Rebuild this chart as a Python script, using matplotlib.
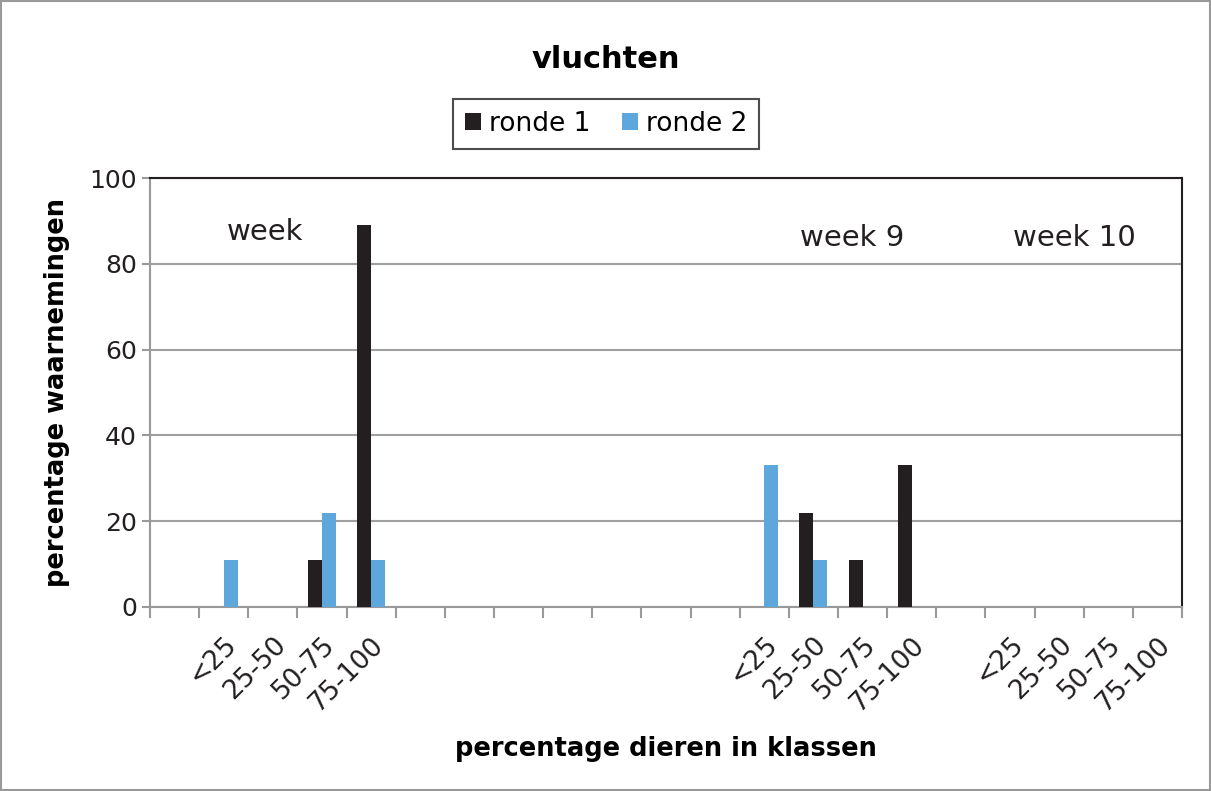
import matplotlib.pyplot as plt
import numpy as np
from matplotlib.patches import Rectangle

# categories along x (empty strings = empty slots)
klassen = ['', '<25', '25-50', '50-75', '75-100',
           '', '', '', '', '', '', '',
           '<25', '25-50', '50-75', '75-100',
           '', '<25', '25-50', '50-75', '75-100']
ronde1 = [0, 0, 0, 11, 89, 0, 0, 0, 0, 0, 0, 0, 0, 22, 11, 33, 0, 0, 0, 0, 0]
ronde2 = [0, 11, 0, 22, 11, 0, 0, 0, 0, 0, 0, 0, 33, 11, 0, 0, 0, 0, 0, 0, 0]
weeks = ['week', 'week 9', 'week 10']
week_x = [1.84, 13.79, 18.32]
week_y = [87.4, 86, 86]

plt.rcParams['font.family'] = 'DejaVu Sans'
fig = plt.figure(figsize=(12.11, 7.91), dpi=100)
ax = fig.add_axes([150/1211, 1-607/791, 1032/1211, 429/791])

x = np.arange(len(klassen))
w = 0.285
ax.bar(x - w/2, ronde1, w, color='#231f20', label='ronde 1', zorder=3)
ax.bar(x + w/2, ronde2, w, color='#5ea7dc', label='ronde 2', zorder=3)

ax.set_xlim(-0.5, len(klassen) - 0.5)
ax.set_ylim(0, 100)
ax.set_yticks([0, 20, 40, 60, 80, 100])
ax.yaxis.grid(True, color='#a0a0a0', linewidth=1.5, zorder=0)
ax.tick_params(axis='y', labelsize=18, length=6, color='#999999', width=1.5, colors='#231f20')

# ticks at boundaries, labels at centres
ax.set_xticks(np.arange(len(klassen) + 1) - 0.5)
ax.set_xticklabels([])
ax.tick_params(axis='x', which='major', length=8, color='#999999', width=1.5)
ax.set_xticks(x, minor=True)
ax.set_xticklabels(klassen, minor=True, rotation=45, ha='right', va='top',
                   rotation_mode='anchor', fontsize=19, color='#231f20')
ax.tick_params(axis='x', which='minor', length=0, pad=18)

for s in ['left', 'bottom']:
    ax.spines[s].set_color('#999999')
    ax.spines[s].set_linewidth(1.5)
for s in ['top', 'right']:
    ax.spines[s].set_color('#231f20')
    ax.spines[s].set_linewidth(1.5)

for t, xx, yy in zip(weeks, week_x, week_y):
    ax.text(xx, yy, t, ha='center', va='center', fontsize=21, color='#231f20')

ax.set_ylabel('percentage waarnemingen', fontsize=18.5, fontweight='bold', labelpad=14)
ax.set_xlabel('percentage dieren in klassen', fontsize=18.5, fontweight='bold', labelpad=14)
fig.text(606/1211, 1-60/791, 'vluchten', ha='center', va='center', fontsize=22, fontweight='bold')

leg = fig.legend(loc='center', bbox_to_anchor=(606/1211, 1-124/791), ncol=2, fontsize=19,
                 frameon=True, fancybox=False, edgecolor='#231f20', handlelength=0.6,
                 handleheight=0.6, handletextpad=0.3, columnspacing=1.2, borderpad=0.45,
                 borderaxespad=0)
leg.get_frame().set_linewidth(1.5)

fig.patches.append(Rectangle((0.001, 0.001), 0.998, 0.998, transform=fig.transFigure,
                             fill=False, edgecolor='#999999', linewidth=1.5))

plt.savefig('out.png', dpi=100)
